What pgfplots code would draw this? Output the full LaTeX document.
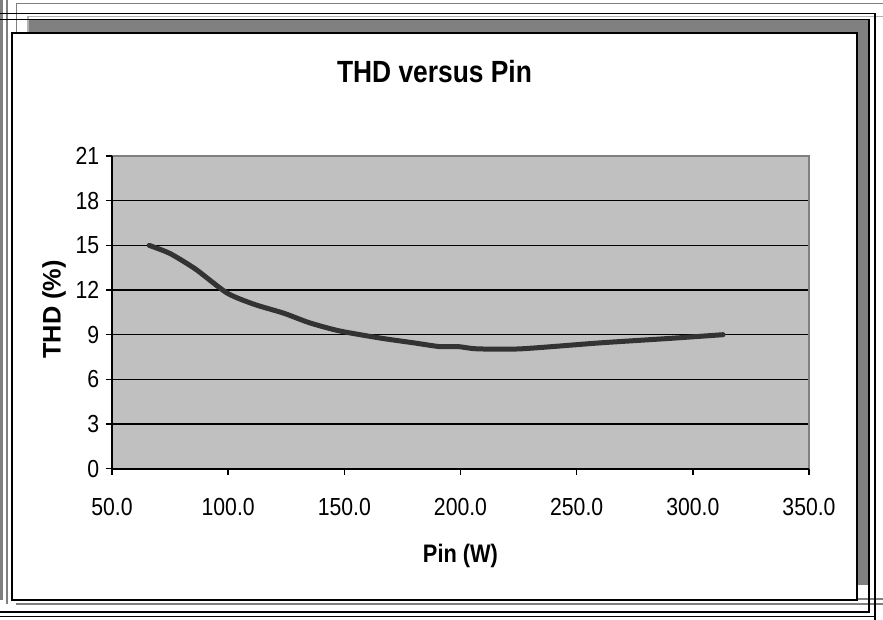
\documentclass[border=0pt]{standalone}
\usepackage{pgfplots}
\pgfplotsset{compat=1.18}
\usepackage{fontspec}
\setmainfont{Liberation Sans}[FakeStretch=0.86]
\newfontfamily\plainsans{Liberation Sans}
\newfontfamily\tickfont{Liberation Sans}[FakeStretch=0.86]
\newcommand{\tl}{\tickfont\fontsize{18.5pt}{20pt}\selectfont}
\definecolor{plotbg}{HTML}{C0C0C0}
\definecolor{frgray}{HTML}{808080}
\definecolor{curvec}{HTML}{333333}
\begin{document}
\begin{tikzpicture}
\useasboundingbox (0,0) rectangle (662.25pt,465pt);
\begin{scope}[x=0.75pt,y=-0.75pt,yshift=465pt]
  % outer decorative frame
  \draw[frgray,line width=1.5pt] (1.5,0) -- (1.5,600);
  \draw[frgray,line width=1.5pt] (7,0) -- (7,604);
  \draw[frgray,line width=1.1pt] (16,604) -- (883,604);
  \draw[frgray,line width=1.1pt] (857,599) -- (883,599);
  \draw[frgray,line width=1.1pt] (16.7,33) -- (16.7,3.5) -- (883,3.5);
  \draw[frgray!60,line width=0.8pt] (28,33) -- (28,16.7) -- (883,16.7);
  \draw[black,line width=1.1pt] (0,13.5) -- (875,13.5) -- (875,620);
  \draw[black,line width=1.1pt] (0,19.5) -- (869,19.5) -- (869,612) -- (0,612);
  \draw[black,line width=1.1pt] (0,616.5) -- (875,616.5);
  % shadow
  \fill[frgray] (29,20.5) rectangle (868,585);
  % chart area
  \filldraw[fill=white,draw=black,line width=1.5pt] (12,33) rectangle (857,600);
  % titles
  \node[font=\bfseries\fontsize{23}{23}\selectfont,anchor=base,inner sep=0pt] at (434.5,83) {THD versus Pin};
  \node[font=\bfseries\fontsize{19}{19}\selectfont,anchor=base,inner sep=0pt] at (460.5,563) {Pin (W)};
  \node[font=\plainsans\bfseries\fontsize{19}{19}\selectfont,anchor=base,inner sep=0pt,rotate=90] at (60.5,309.5) {THD (\%)};
\end{scope}
\begin{axis}[
  at={(84pt,113.475pt)}, anchor=south west,
  scale only axis, width=522.75pt, height=234.5pt,
  xmin=50, xmax=350, ymin=0, ymax=21,
  xtick={50,100,150,200,250,300,350},
  xticklabels={{\tl 50.0},{\tl 100.0},{\tl 150.0},{\tl 200.0},{\tl 250.0},{\tl 300.0},{\tl 350.0}},
  ytick={0,3,6,9,12,15,18,21},
  yticklabels={{\tl 0},{\tl 3},{\tl 6},{\tl 9},{\tl 12},{\tl 15},{\tl 18},{\tl 21}},
  xtick pos=bottom, ytick pos=left,
  tick align=outside, major tick length=4.5pt,
  every tick/.style={black,line width=1.1pt},
  axis line style={draw=none},
  axis background/.style={fill=plotbg},
  ymajorgrids, grid style={black,line width=0.8pt},
  xticklabel style={yshift=-14pt},
  yticklabel style={xshift=-1.5pt},
  clip=false,
]
\addplot[curvec,line width=3.75pt,line cap=round,line join=round,smooth,tension=0.4] coordinates {
 (66,15.0) (75,14.45) (86,13.4) (99.5,11.8) (111,11.05) (124,10.44) (135,9.8)
 (148,9.25) (166,8.76) (180,8.45) (191,8.2) (199,8.2) (207,8.05) (226,8.05)
 (260,8.45) (290,8.75) (313,9.0)
};
\draw[frgray,line width=0.8pt] (rel axis cs:0,1) -- (rel axis cs:1,1) -- (rel axis cs:1,0);
\draw[black,line width=1.4pt] (rel axis cs:0,1) -- (rel axis cs:0,0) -- (rel axis cs:1,0);
\end{axis}
\end{tikzpicture}
\end{document}
